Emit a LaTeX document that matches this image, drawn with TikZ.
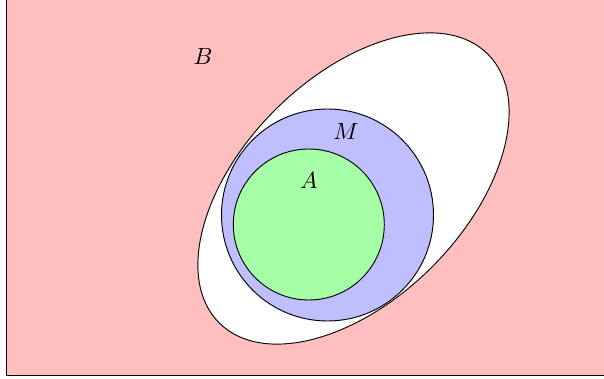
\documentclass[tikz,border=0pt]{standalone}
\begin{document}
\begin{tikzpicture}[x=0.427pt,y=-0.427pt,
  setline/.style={draw=black,line width=0.4pt}]
\useasboundingbox (0,0) rectangle (604,379);
\clip (0,0) rectangle (604,379);
\path[setline,fill=red!25] (6.5,375) rectangle (640,-30);
\path[setline,fill=white,rotate around={45:(353.5,188.5)}] (353.5,188.5) ellipse [x radius=190, y radius=111];
\path[setline,fill=blue!25] (327.5,215) circle [radius=106];
\path[setline,fill=green!35] (308.8,224.5) circle [radius=75.5];
\node (B) at (203,56) {$B$};
\node (M) at (346,131) {$M$};
\node (A) at (309,180) {$A$};
\end{tikzpicture}
\end{document}
